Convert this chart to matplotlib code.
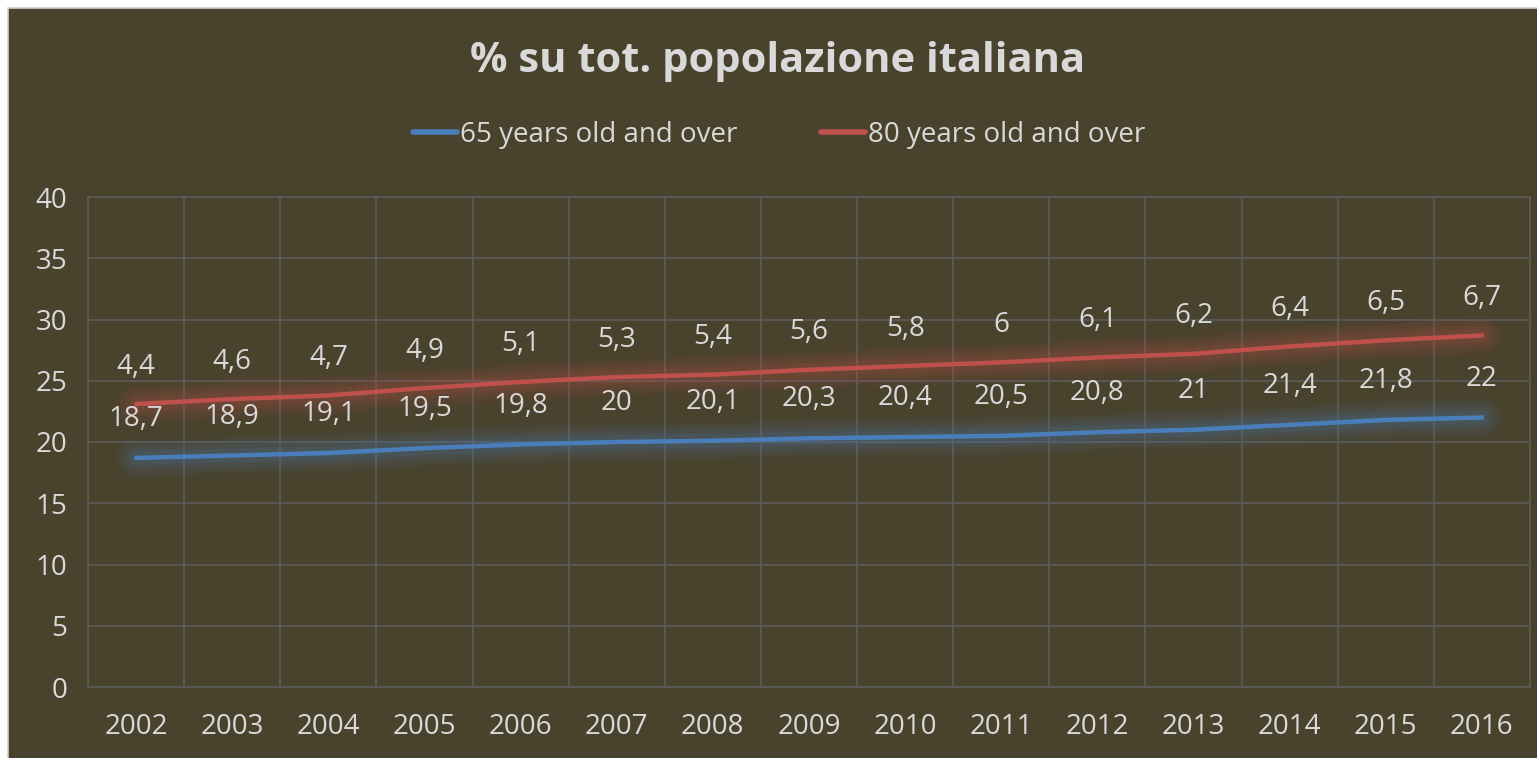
import matplotlib
matplotlib.use("Agg")
import matplotlib.pyplot as plt
import matplotlib.patheffects as pe
from matplotlib.patches import Rectangle
import numpy as np

years = ["2002", "2003", "2004", "2005", "2006", "2007", "2008", "2009",
         "2010", "2011", "2012", "2013", "2014", "2015", "2016"]
over65 = [18.7, 18.9, 19.1, 19.5, 19.8, 20, 20.1, 20.3, 20.4, 20.5, 20.8, 21, 21.4, 21.8, 22]
over80 = [4.4, 4.6, 4.7, 4.9, 5.1, 5.3, 5.4, 5.6, 5.8, 6, 6.1, 6.2, 6.4, 6.5, 6.7]
series_names = ["65 years old and over", "80 years old and over"]
title = "% su tot. popolazione italiana"
yticks = [0, 5, 10, 15, 20, 25, 30, 35, 40]

BG = "#49422d"
GRID = "#5a5a58"
TXT = "#d9d9d9"
BLUE = "#4a7ebb"
RED = "#c0504d"
FONT = "Open Sans"
FS = 20

def fmt(v):
    return ("%g" % v).replace(".", ",")

fig = plt.figure(figsize=(15.37, 7.58), dpi=100, facecolor="white")
fig.patches.append(Rectangle((8 / 1537, -0.01), 1.02, 1 - 8 / 758 + 0.01,
                             transform=fig.transFigure, facecolor=BG,
                             edgecolor="#cfcfcf", linewidth=1.2, zorder=-10))

ax = fig.add_axes([88 / 1537, 1 - 687 / 758, (1530 - 88) / 1537, (687 - 197) / 758])
ax.set_facecolor(BG)
x = np.arange(len(years))
stacked = np.array(over65) + np.array(over80)

def glow(color):
    return [pe.Stroke(linewidth=30, foreground=color, alpha=0.05),
            pe.Stroke(linewidth=23, foreground=color, alpha=0.08),
            pe.Stroke(linewidth=16, foreground=color, alpha=0.10),
            pe.Stroke(linewidth=10, foreground=color, alpha=0.13),
            pe.Normal()]

l1, = ax.plot(x, over65, color=BLUE, lw=3.2, solid_capstyle="round",
              path_effects=glow(BLUE), label=series_names[0], zorder=3)
l2, = ax.plot(x, stacked, color=RED, lw=3.2, solid_capstyle="round",
              path_effects=glow(RED), label=series_names[1], zorder=3)

for xi, v in zip(x, over65):
    ax.annotate(fmt(v), (xi, v), xytext=(0, 28), textcoords="offset points",
                ha="center", va="center", color=TXT, fontsize=FS, family=FONT, zorder=5)
for xi, v, s in zip(x, over80, stacked):
    ax.annotate(fmt(v), (xi, s), xytext=(0, 27), textcoords="offset points",
                ha="center", va="center", color=TXT, fontsize=FS, family=FONT, zorder=5)

ax.set_xlim(-0.5, len(years) - 0.5)
ax.set_ylim(0, 40)
ax.set_yticks(yticks)
ax.set_yticklabels([str(t) for t in yticks])
ax.set_xticks(x)
ax.set_xticklabels(years)
ax.set_xticks(np.arange(-0.5, len(years), 1), minor=True)
ax.grid(True, which="major", axis="y", color=GRID, lw=1.3)
ax.grid(True, which="minor", axis="x", color=GRID, lw=1.3)
ax.tick_params(which="both", length=0)
ax.tick_params(axis="y", pad=15, labelsize=FS, labelcolor=TXT)
ax.tick_params(axis="x", pad=19, labelsize=FS, labelcolor=TXT)
for lab in ax.get_xticklabels() + ax.get_yticklabels():
    lab.set_family(FONT)
for sp in ax.spines.values():
    sp.set_color(GRID)
    sp.set_linewidth(1.3)

fig.text(778 / 1537, 1 - 62 / 758, title, ha="center", va="center",
         color=TXT, fontsize=30, fontweight="bold", family=FONT)

leg = fig.legend(handles=[l1, l2], loc="center", bbox_to_anchor=(779 / 1537, 1 - 135 / 758),
                 ncol=2, frameon=False, handlelength=1.6, handletextpad=0.1,
                 columnspacing=3.0, prop={"family": FONT, "size": 20})
for t in leg.get_texts():
    t.set_color(TXT)
for h in leg.get_lines():
    h.set_path_effects([])
    h.set_linewidth(4)

fig.savefig("out.png", dpi=100, facecolor=fig.get_facecolor())
